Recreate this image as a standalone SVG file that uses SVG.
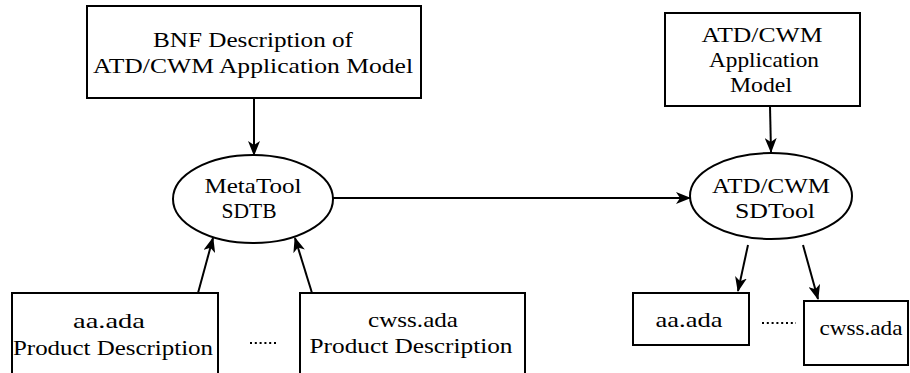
<svg xmlns="http://www.w3.org/2000/svg" width="910" height="373" viewBox="0 0 910 373">
  <style>
    .box { fill: #fff; stroke: #000; stroke-width: 2; }
    .oval { fill: #fff; stroke: #000; stroke-width: 2; }
    .lbl { font-size: 21px; fill: #000; text-anchor: middle; }
    .edge { fill: none; stroke: #000; stroke-width: 2; marker-end: url(#arrow); }
    .dots { fill: none; stroke: #000; stroke-width: 2; stroke-dasharray: 2 2.8; }
  </style>
  <defs>
    <marker id="arrow" viewBox="0 0 15 12" refX="14" refY="6" markerWidth="15" markerHeight="12" markerUnits="userSpaceOnUse" orient="auto">
      <path d="M0,0 L15,6 L0,12 L4,6 Z" fill="#000"/>
    </marker>
  </defs>
  <rect width="910" height="373" fill="#fff"/>

  <g id="connectors">
    <line class="edge" x1="254" y1="98" x2="254" y2="155"/>
    <line class="edge" x1="333" y1="198" x2="690" y2="198"/>
    <line class="edge" x1="770" y1="106" x2="771" y2="152"/>
    <line class="edge" x1="198" y1="293" x2="213" y2="238"/>
    <line class="edge" x1="312" y1="293" x2="295" y2="238"/>
    <line class="edge" x1="748" y1="245" x2="738" y2="291"/>
    <line class="edge" x1="803" y1="245" x2="818" y2="299"/>
  </g>

  <g font-family="Liberation Serif, Times New Roman, serif">
    <g id="bnf-description">
      <rect class="box" x="87" y="6" width="334" height="92"/>
      <text class="lbl" x="253" y="47" textLength="200" lengthAdjust="spacingAndGlyphs">BNF Description of</text>
      <text class="lbl" x="253" y="73" textLength="320" lengthAdjust="spacingAndGlyphs">ATD/CWM Application Model</text>
    </g>

    <g id="application-model">
      <rect class="box" x="665" y="13" width="195" height="93"/>
      <text class="lbl" x="762" y="42" textLength="121" lengthAdjust="spacingAndGlyphs">ATD/CWM</text>
      <text class="lbl" x="764" y="67" textLength="110" lengthAdjust="spacingAndGlyphs">Application</text>
      <text class="lbl" x="761" y="92" textLength="62" lengthAdjust="spacingAndGlyphs">Model</text>
    </g>

    <g id="metatool-sdtb">
      <ellipse class="oval" cx="253" cy="199" rx="80" ry="44"/>
      <text class="lbl" x="253" y="193" textLength="97" lengthAdjust="spacingAndGlyphs">MetaTool</text>
      <text class="lbl" x="249" y="218" textLength="55" lengthAdjust="spacingAndGlyphs">SDTB</text>
    </g>

    <g id="atd-cwm-sdtool">
      <ellipse class="oval" cx="771" cy="196" rx="81" ry="43"/>
      <text class="lbl" x="771" y="193" textLength="118" lengthAdjust="spacingAndGlyphs">ATD/CWM</text>
      <text class="lbl" x="775" y="218" textLength="80" lengthAdjust="spacingAndGlyphs">SDTool</text>
    </g>

    <g id="aa-product-description">
      <rect class="box" x="12" y="293" width="206" height="82"/>
      <text class="lbl" x="109" y="328" textLength="72" lengthAdjust="spacingAndGlyphs">aa.ada</text>
      <text class="lbl" x="113" y="355" textLength="200" lengthAdjust="spacingAndGlyphs">Product Description</text>
    </g>

    <g id="product-ellipsis">
      <line class="dots" x1="250" y1="343" x2="278" y2="343"/>
    </g>

    <g id="cwss-product-description">
      <rect class="box" x="300" y="293" width="225" height="82"/>
      <text class="lbl" x="413" y="327" textLength="90" lengthAdjust="spacingAndGlyphs">cwss.ada</text>
      <text class="lbl" x="411" y="353" textLength="203" lengthAdjust="spacingAndGlyphs">Product Description</text>
    </g>

    <g id="aa-ada">
      <rect class="box" x="633" y="293" width="116" height="52"/>
      <text class="lbl" x="689" y="327" textLength="67" lengthAdjust="spacingAndGlyphs">aa.ada</text>
    </g>

    <g id="output-ellipsis">
      <line class="dots" x1="762" y1="323" x2="796" y2="323"/>
    </g>

    <g id="cwss-ada">
      <rect class="box" x="804" y="301" width="104" height="64"/>
      <text class="lbl" x="861" y="335" textLength="83" lengthAdjust="spacingAndGlyphs">cwss.ada</text>
    </g>
  </g>
</svg>
